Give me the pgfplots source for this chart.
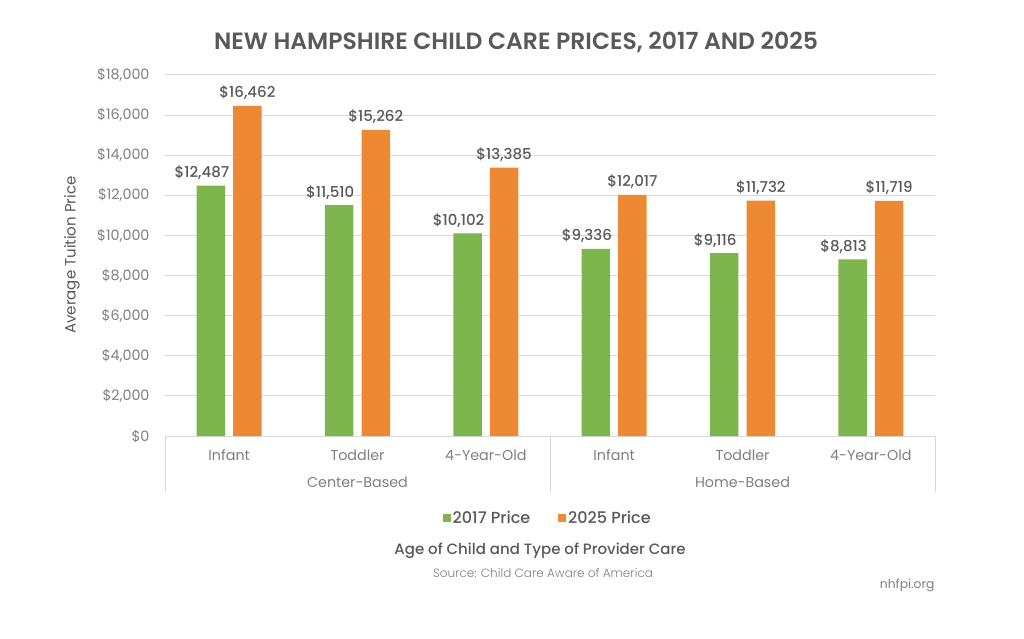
\documentclass[border=0pt]{standalone}
\usepackage{pgfplots}
\pgfplotsset{compat=1.18}
\usepackage{fontspec}
\setmainfont{Poppins}
\newfontfamily\pmed{Poppins Medium}
\newfontfamily\psemi{Poppins SemiBold}
\newfontfamily\plight{Poppins Light}
\definecolor{cgreen}{RGB}{125,182,76}
\definecolor{corange}{RGB}{237,137,51}
\definecolor{gridgray}{RGB}{217,217,217}
\definecolor{darktext}{RGB}{89,89,89}
\definecolor{midtext}{RGB}{127,127,127}
\begin{document}
\begin{tikzpicture}[x=1pt,y=1pt]
\useasboundingbox (0,0) rectangle (1024,638);
\begin{axis}[
  at={(165pt,202pt)}, anchor=south west,
  scale only axis, width=770pt, height=361pt,
  xmin=-0.5, xmax=5.5, ymin=0, ymax=18000,
  scaled y ticks=false,
  axis line style={draw=none},
  major tick length=0pt,
  ytick={0,2000,...,18000},
  yticklabels={{\$0},{\$2,000},{\$4,000},{\$6,000},{\$8,000},{\$10,000},{\$12,000},{\$14,000},{\$16,000},{\$18,000}},
  yticklabel style={font=\fontsize{14.3}{16}\selectfont, text=midtext, anchor=east, xshift=-12pt},
  ymajorgrids, grid style={draw=gridgray, line width=1pt},
  xtick={0,1,2,3,4,5},
  xticklabels={Infant,Toddler,4-Year-Old,Infant,Toddler,4-Year-Old},
  xticklabel style={font=\fontsize{14.3}{16}\selectfont, text=midtext, anchor=base, yshift=-24pt},
  ybar, bar width=28.5pt,
  nodes near coords={\$\pgfmathprintnumber[assume math mode=true,fixed,precision=0,1000 sep={,}]{\pgfplotspointmeta}},
  every node near coord/.append style={font=\fontsize{15}{17}\selectfont\pmed, text=darktext, anchor=base, yshift=8pt},
  legend columns=2,
  legend style={at={(0.497,-0.227)}, anchor=center, draw=none, fill=none,
    font=\fontsize{16}{18}\selectfont\pmed, text=darktext,
    /tikz/every even column/.append style={column sep=26pt}},
  legend image code/.code={\fill[#1] (0pt,-4pt) rectangle (8pt,4pt);},
  clip=false,
]
\addplot[fill=cgreen, draw=none, bar shift=-18.3pt,
  every node near coord/.append style={xshift=-9pt}]
  coordinates {(0,12487) (1,11510) (2,10102) (3,9336) (4,9116) (5,8813)};
\addlegendentry{2017 Price}
\addplot[fill=corange, draw=none, bar shift=18.3pt]
  coordinates {(0,16462) (1,15262) (2,13385) (3,12017) (4,11732) (5,11719)};
\addlegendentry{2025 Price}
\draw[gridgray, line width=1pt] (axis cs:-0.5,0) -- ([yshift=-56pt]axis cs:-0.5,0);
\draw[gridgray, line width=1pt] (axis cs:2.5,0) -- ([yshift=-56pt]axis cs:2.5,0);
\draw[gridgray, line width=1pt] (axis cs:5.5,0) -- ([yshift=-56pt]axis cs:5.5,0);
\node[font=\fontsize{14.3}{16}\selectfont, text=midtext, anchor=base] at ([yshift=-51pt]axis cs:1,0) {Center-Based};
\node[font=\fontsize{14.3}{16}\selectfont, text=midtext, anchor=base] at ([yshift=-51pt]axis cs:4,0) {Home-Based};
\end{axis}
\node[font=\fontsize{23.5}{26}\selectfont\psemi, text=darktext] at (516,596) {NEW HAMPSHIRE CHILD CARE PRICES, 2017 AND 2025};
\node[font=\fontsize{15}{17}\selectfont, text=darktext, rotate=90] at (72,383) {Average Tuition Price};
\node[font=\fontsize{15}{17}\selectfont\pmed, text=darktext] at (540,87) {Age of Child and Type of Provider Care};
\node[font=\fontsize{12}{14}\selectfont\plight, text=midtext] at (543,65) {Source: Child Care Aware of America};
\node[font=\fontsize{12.3}{14}\selectfont, text=midtext, anchor=east] at (938,53) {nhfpi.org};
\end{tikzpicture}
\end{document}
